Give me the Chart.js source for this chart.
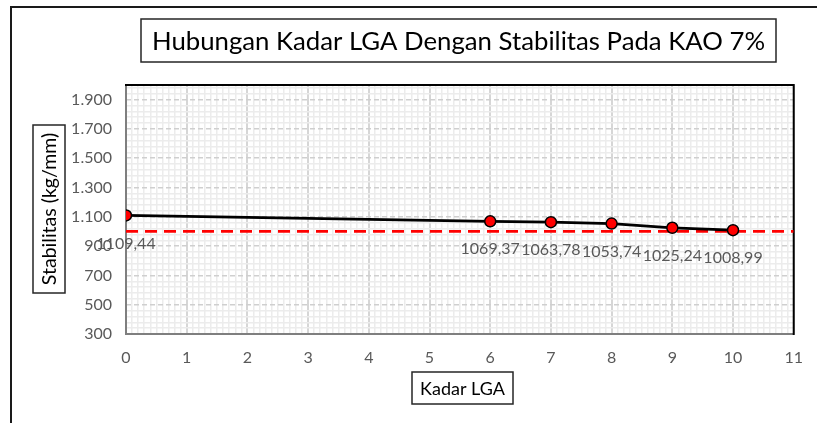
<!DOCTYPE html>
<html><head><meta charset="utf-8">
<script src="https://cdn.jsdelivr.net/npm/chart.js@4.4.0/dist/chart.umd.min.js"></script>
<style>html,body{margin:0;padding:0;background:#fff;}#wrap{width:817px;height:423px;position:relative;}</style>
</head><body><div id="wrap"><canvas id="c" width="817" height="423"></canvas></div>
<script>
const chartTitle = 'Hubungan Kadar LGA Dengan Stabilitas Pada KAO 7%';
const xTitle = 'Kadar LGA';
const yTitle = 'Stabilitas (kg/mm)';
const kadarLGA = [0, 6, 7, 8, 9, 10];
const stabilitas = [1109.44, 1069.37, 1063.78, 1053.74, 1025.24, 1008.99];
const dataLabels = ['1109,44', '1069,37', '1063,78', '1053,74', '1025,24', '1008,99'];
const batasX = [0, 11];
const batasY = [1000, 1000];
const yTicks = [300, 500, 700, 900, 1100, 1300, 1500, 1700, 1900];
const xTicks = [0, 1, 2, 3, 4, 5, 6, 7, 8, 9, 10, 11];
const yMin = 300, yMax = 2000, xMin = 0, xMax = 11;
const yMinorStep = 40, xMinorPerUnit = 10;

const FONT = 'Lato, "Open Sans", sans-serif';

function fmtY(v) {
  if (v >= 1000) return Math.floor(v / 1000) + '.' + String(v % 1000).padStart(3, '0');
  return String(v);
}
function isMajorX(v) { return xTicks.some(t => Math.abs(t - v) < 1e-6); }
function isMajorY(v) { return yTicks.some(t => Math.abs(t - v) < 1e-6); }

function fitFont(ctx, text, target, start, weight) {
  let s = start;
  ctx.font = (weight || '') + ' ' + s + 'px ' + FONT;
  while (ctx.measureText(text).width > target && s > 8) {
    s -= 0.25;
    ctx.font = (weight || '') + ' ' + s + 'px ' + FONT;
  }
  return s;
}

const decorPlugin = {
  id: 'decor',
  beforeDatasetsDraw(chart) {
    const ctx = chart.ctx, a = chart.chartArea;
    ctx.save();
    ctx.lineWidth = 2;
    ctx.strokeStyle = '#7f7f7f';
    ctx.beginPath();
    ctx.moveTo(a.left, a.top); ctx.lineTo(a.left, a.bottom); ctx.lineTo(a.right, a.bottom);
    ctx.stroke();
    ctx.strokeStyle = '#000';
    ctx.beginPath();
    ctx.moveTo(a.left - 1, a.top); ctx.lineTo(a.right, a.top); ctx.lineTo(a.right, a.bottom + 1);
    ctx.stroke();
    ctx.restore();
  },
  afterDatasetsDraw(chart) {
    const ctx = chart.ctx;
    const meta = chart.getDatasetMeta(0);
    ctx.save();
    ctx.fillStyle = '#595959';
    ctx.font = '16px ' + FONT;
    ctx.textAlign = 'center';
    ctx.textBaseline = 'middle';
    meta.data.forEach((el, i) => {
      ctx.fillText(dataLabels[i], el.x, el.y + 28);
    });
    ctx.restore();
  },
  afterDraw(chart) {
    const ctx = chart.ctx;
    ctx.save();
    ctx.strokeStyle = '#1a1a1a';
    ctx.lineWidth = 2;
    ctx.beginPath();
    ctx.moveTo(11, 423); ctx.lineTo(11, 7); ctx.lineTo(817, 7);
    ctx.stroke();
    ctx.lineWidth = 1.5;
    ctx.strokeStyle = '#262626';
    ctx.strokeRect(141, 19, 635, 43);
    ctx.fillStyle = '#000';
    ctx.textAlign = 'center';
    ctx.textBaseline = 'middle';
    fitFont(ctx, chartTitle, 618, 28);
    ctx.fillText(chartTitle, 458.5, 41.5);
    ctx.strokeRect(412, 372, 101, 32);
    fitFont(ctx, xTitle, 86, 20);
    ctx.fillText(xTitle, 462.5, 389);
    ctx.strokeRect(33, 125, 32, 168);
    fitFont(ctx, yTitle, 154, 20);
    ctx.translate(50, 209);
    ctx.rotate(-Math.PI / 2);
    ctx.fillText(yTitle, 0, 0);
    ctx.restore();
  }
};

new Chart(document.getElementById('c'), {
  type: 'scatter',
  data: {
    datasets: [
      {
        data: kadarLGA.map((x, i) => ({ x: x, y: stabilitas[i] })),
        showLine: true,
        borderColor: '#000',
        borderWidth: 2.75,
        pointRadius: 5.5,
        pointBackgroundColor: '#ff0000',
        pointBorderColor: '#000',
        pointBorderWidth: 1.5,
        tension: 0,
        order: 0
      },
      {
        data: batasX.map((x, i) => ({ x: x, y: batasY[i] })),
        showLine: true,
        borderColor: '#ff0000',
        borderWidth: 2.75,
        borderDash: [12, 7],
        pointRadius: 0,
        tension: 0,
        order: 1
      }
    ]
  },
  options: {
    responsive: false,
    animation: false,
    devicePixelRatio: 1,
    layout: { padding: { left: 0, top: 85, right: 20, bottom: 0 } },
    plugins: { legend: { display: false }, title: { display: false }, tooltip: { enabled: false } },
    scales: {
      x: {
        type: 'linear', min: xMin, max: xMax,
        afterBuildTicks(s) {
          const t = [];
          for (let i = xMin * xMinorPerUnit; i <= xMax * xMinorPerUnit; i++) t.push({ value: i / xMinorPerUnit });
          s.ticks = t;
        },
        afterFit(s) { s.height = 89; },
        ticks: {
          autoSkip: false, maxRotation: 0, padding: 14,
          color: '#595959', font: { family: FONT, size: 16 },
          callback: v => isMajorX(v) ? String(Math.round(v)) : ''
        },
        grid: {
          drawTicks: false,
          color: c => isMajorX(c.tick.value) ? '#d6d6d6' : '#ececec',
          lineWidth: c => isMajorX(c.tick.value) ? 2 : 1.5
        },
        border: { display: false }
      },
      y: {
        type: 'linear', min: yMin, max: yMax,
        afterBuildTicks(s) {
          const t = [];
          for (let v = yMin; v < yMax; v += yMinorStep) t.push({ value: v });
          t.push({ value: yMax });
          s.ticks = t;
        },
        afterFit(s) { s.width = 126; },
        ticks: {
          autoSkip: false, padding: 14,
          color: '#595959', font: { family: FONT, size: 16 },
          callback: v => isMajorY(v) ? fmtY(v) : ''
        },
        grid: {
          drawTicks: false,
          color: c => isMajorY(c.tick.value) ? '#cfcfcf' : '#ececec',
          lineWidth: 1.5
        },
        border: { display: false, dash: c => (c.tick && isMajorY(c.tick.value)) ? [5, 3] : [] }
      }
    }
  },
  plugins: [decorPlugin]
});
</script>
</body></html>
